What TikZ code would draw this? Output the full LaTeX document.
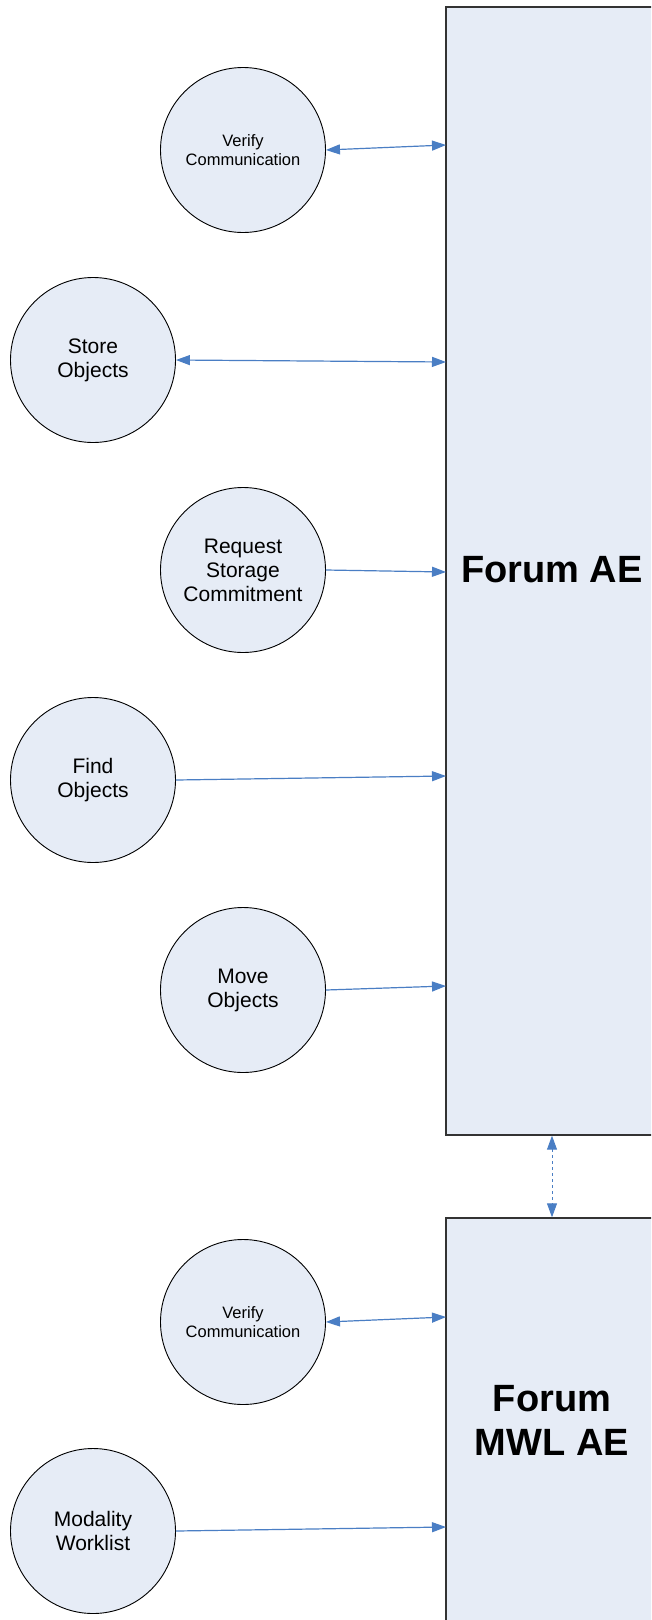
\documentclass[tikz,border=0pt]{standalone}
\usepackage{fontspec}
\setmainfont{Liberation Sans}
\usetikzlibrary{arrows.meta}
\definecolor{fillblue}{HTML}{E6ECF6}
\definecolor{arrowblue}{HTML}{4A7EC4}
\definecolor{boxline}{HTML}{333333}
\begin{document}
\begin{tikzpicture}[x=1pt,y=-1pt,
  usecase/.style={circle,draw=black,line width=0.9pt,fill=fillblue,minimum size=165pt,inner sep=0pt,align=center,font=\fontsize{21}{24}\selectfont},
  smallcase/.style={usecase,font=\fontsize{16.5}{19}\selectfont},
  aebox/.style={rectangle,draw=boxline,line width=1.4pt,fill=fillblue,inner sep=0pt},
  aetext/.style={align=center,font=\fontsize{38}{44}\selectfont\bfseries},
  link/.style={draw=arrowblue,line width=1.2pt,-{Triangle[length=14pt,width=10pt]}},
  dlink/.style={link,{Triangle[length=14pt,width=10pt]}-{Triangle[length=14pt,width=10pt]}}]
\clip (0,0) rectangle (651,1620);
\fill[white] (0,0) rectangle (651,1620);
% boxes
\node[aebox,minimum width=212pt,minimum height=1128pt] (ae) at (552,571) {};
\node[aetext] (aet) at (552,570) {Forum AE};
\node[aebox,minimum width=212pt,minimum height=440pt] (mwl) at (552,1438) {};
\node[aetext] (mwlt) at (552,1420) {Forum\\MWL AE};
% use cases
\node[smallcase] (v1) at (243,150) {Verify\\Communication};
\node[usecase] (so) at (93,360) {Store\\Objects};
\node[usecase] (rs) at (243,570) {Request\\Storage\\Commitment};
\node[usecase] (fo) at (93,780) {Find\\Objects};
\node[usecase] (mo) at (243,990) {Move\\Objects};
\node[smallcase] (v2) at (243,1322) {Verify\\Communication};
\node[usecase] (mw) at (93,1531) {Modality\\Worklist};
% targets on box edges
\coordinate (t1) at (446,145);
\coordinate (t2) at (446,362);
\coordinate (t3) at (446,572);
\coordinate (t4) at (446,776);
\coordinate (t5) at (446,986);
\coordinate (t6) at (446,1317);
\coordinate (t7) at (446,1527);
% connectors
\draw[dlink] (v1.east) -- (t1);
\draw[dlink] (so.east) -- (t2);
\draw[link] (rs.east) -- (t3);
\draw[link] (fo.east) -- (t4);
\draw[link] (mo.east) -- (t5);
\draw[dlink] (v2.east) -- (t6);
\draw[link] (mw.east) -- (t7);
\draw[dlink,dashed,line width=1pt] (ae.south) -- (mwl.north);
\end{tikzpicture}
\end{document}
